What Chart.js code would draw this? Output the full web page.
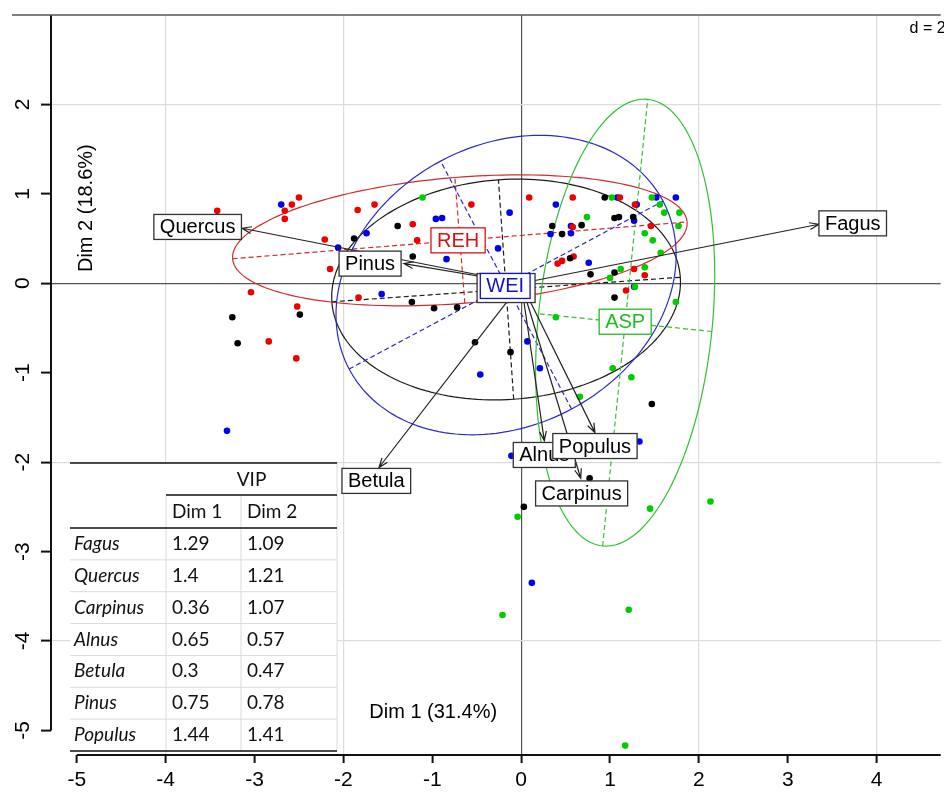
<!DOCTYPE html>
<html>
<head>
<meta charset="utf-8">
<script src="https://cdn.jsdelivr.net/npm/chart.js@4.4.1/dist/chart.umd.min.js"></script>
<style>
  html, body { margin: 0; padding: 0; background: #fff; overflow: hidden; }
  canvas { display: block; }
</style>
</head>
<body>
<canvas id="pcaChart" width="944" height="793"></canvas>
<script>
// site scores on Dim 1 / Dim 2, one pair of arrays per group
const blackX = [-3.25, -2.49, -3.19, -1.88, -1.39, -1.22, -1.23, -0.98, -0.72, -0.52, -0.12, 0.35, 0.46, 0.68, 0.55, 0.78, 0.94, 1.05, 1.10, 1.26, 1.05, 1.05, 1.47, 0.77, 0.03];
const blackY = [-0.38, -0.35, -0.67, 0.50, 0.64, 0.30, -0.21, -0.28, -0.27, -0.66, -0.77, 0.64, 0.55, 0.65, 0.28, 0.10, 0.96, 0.73, 0.74, 0.74, 0.12, -0.16, -1.35, -2.18, -2.50];

const redX = [-3.42, -2.58, -2.50, -2.66, -2.66, -3.04, -2.52, -2.84, -2.53, -1.84, -1.65, -2.21, -2.15, -1.83, -1.22, -1.17, -0.56, 0.09, 0.58, 0.58, 0.59, 0.41, 0.46, 1.11, 1.28, 1.46, 1.27, 1.39, 1.18];
const redY = [0.81, 0.88, 0.96, 0.81, 0.72, -0.10, -0.26, -0.65, -0.84, 0.82, 0.88, 0.49, 0.16, -0.16, 0.66, 0.48, 0.88, 0.96, 0.96, 0.63, 0.30, 0.22, 0.25, 0.96, 0.88, 0.64, 0.16, 0.09, -0.08];

const blueX = [-2.70, -2.06, -1.74, -1.57, -0.96, -0.89, -0.84, -0.26, -0.13, 0.39, 0.33, 0.56, 0.56, 0.76, 1.08, 1.52, 1.74, 1.30, 1.27, 1.27, 0.07, -0.46, 0.21, 1.33, -0.11, 0.12, -3.31];
const blueY = [0.88, 0.40, 0.56, -0.12, 0.72, 0.73, 0.27, 0.39, 0.79, 0.88, 0.55, 0.64, 0.56, 0.23, 0.96, 0.96, 0.96, 0.88, 0.70, -0.04, -0.65, -1.02, -0.95, -1.77, -1.93, -3.35, -1.65];

const greenX = [-1.11, 0.74, 1.00, 1.02, 1.47, 1.56, 1.61, 1.78, 1.77, 1.39, 1.48, 1.57, 1.12, 1.39, 1.28, 1.74, 0.39, 1.03, 1.24, 0.66, 2.13, 1.45, -0.04, -0.21, 1.21, 1.17];
const greenY = [0.96, 0.74, 0.06, 0.96, 0.96, 0.88, 0.79, 0.79, 0.64, 0.56, 0.48, 0.34, 0.16, 0.18, -0.04, -0.21, -0.38, -0.95, -1.05, -1.27, -2.44, -2.52, -2.61, -3.71, -3.65, -5.17];

// group ellipses: centre, semi axes, angle (deg) - black, red, blue, green
const ellipseCX = [-0.17, -0.69, -0.17, 1.17];
const ellipseCY = [-0.07, 0.48, -0.02, -0.44];
const ellipseA = [1.965, 2.565, 2.0, 2.51];
const ellipseB = [1.23, 0.705, 1.57, 0.98];
const ellipseAngle = [4, 4.6, 28, 84.2];
const ellipseColors = ["#1a1a1a", "#d42a2a", "#2b2bc4", "#33c033"];

// group labels
const classNames = ["REH", "WEI", "ASP"];
const classX = [-0.71, -0.18, 1.17];
const classY = [0.48, -0.03, -0.43];
const classColors = ["#dd1111", "#1111cc", "#22bb22"];

// species arrows (tip) and label positions
const speciesNames = ["Fagus", "Quercus", "Carpinus", "Alnus", "Betula", "Pinus", "Populus"];
const arrowX = [3.35, -3.14, 0.67, 0.26, -1.60, -1.32, 0.83];
const arrowY = [0.66, 0.615, -2.18, -1.76, -2.06, 0.22, -1.67];
const labelX = [3.73, -3.64, 0.68, 0.26, -1.63, -1.70, 0.83];
const labelY = [0.67, 0.63, -2.35, -1.92, -2.21, 0.22, -1.82];

// VIP table
const vipSpecies = ["Fagus", "Quercus", "Carpinus", "Alnus", "Betula", "Pinus", "Populus"];
const vipDim1 = [1.29, 1.4, 0.36, 0.65, 0.3, 0.75, 1.44];
const vipDim2 = [1.09, 1.21, 1.07, 0.57, 0.47, 0.78, 1.41];

const xTicks = [-5, -4, -3, -2, -1, 0, 1, 2, 3, 4];
const yTicks = [-5, -4, -3, -2, -1, 0, 1, 2];

const FONT = '"Liberation Sans", Arial, sans-serif';

function pts(xs, ys) {
    return xs.map((x, i) => ({ x: x, y: ys[i] }));
}

function gridColor(ctx) {
    const v = ctx.tick ? ctx.tick.value : null;
    if (v === 0) return "#555";
    if (v !== null && v % 2 === 0) return "#dcdcdc";
    return "rgba(0,0,0,0)";
}

function noPad(s) {
    s.paddingTop = 0;
    s.paddingBottom = 0;
    s.paddingLeft = 0;
    s.paddingRight = 0;
}

function boxLabel(ctx, text, x, y, color, textColor) {
    ctx.font = "20px " + FONT;
    const w = ctx.measureText(text).width + 12;
    const h = 25;
    ctx.fillStyle = "#fff";
    ctx.fillRect(x - w / 2, y - h / 2, w, h);
    ctx.strokeStyle = color;
    ctx.lineWidth = 1.3;
    ctx.setLineDash([]);
    ctx.strokeRect(x - w / 2, y - h / 2, w, h);
    ctx.fillStyle = textColor;
    ctx.textAlign = "center";
    ctx.textBaseline = "middle";
    ctx.fillText(text, x, y + 1);
}

const decorPlugin = {
    id: "decor",
    beforeDatasetsDraw(chart) {
        const ctx = chart.ctx;
        const sx = chart.scales.x, sy = chart.scales.y;
        const area = chart.chartArea;
        ctx.save();

        // axis lines
        ctx.strokeStyle = "#111";
        ctx.lineWidth = 2;
        ctx.beginPath();
        ctx.moveTo(sx.getPixelForValue(-5), area.bottom);
        ctx.lineTo(area.right, area.bottom);
        ctx.moveTo(area.left, sy.getPixelForValue(-5));
        ctx.lineTo(area.left, area.top);
        ctx.stroke();
        ctx.strokeStyle = "#555";
        ctx.lineWidth = 1.5;
        ctx.beginPath();
        ctx.moveTo(12, area.top);
        ctx.lineTo(area.right, area.top);
        ctx.stroke();

        // ellipses with dashed axes
        ctx.beginPath();
        ctx.rect(area.left, area.top, area.right - area.left, area.bottom - area.top);
        ctx.clip();
        for (let i = 0; i < ellipseCX.length; i++) {
            const t = ellipseAngle[i] * Math.PI / 180;
            const cx = sx.getPixelForValue(ellipseCX[i]);
            const cy = sy.getPixelForValue(ellipseCY[i]);
            const ux = sx.getPixelForValue(ellipseCX[i] + ellipseA[i] * Math.cos(t)) - cx;
            const uy = sy.getPixelForValue(ellipseCY[i] + ellipseA[i] * Math.sin(t)) - cy;
            const vx = sx.getPixelForValue(ellipseCX[i] - ellipseB[i] * Math.sin(t)) - cx;
            const vy = sy.getPixelForValue(ellipseCY[i] + ellipseB[i] * Math.cos(t)) - cy;
            ctx.strokeStyle = ellipseColors[i];
            ctx.lineWidth = 1.2;
            ctx.setLineDash([]);
            ctx.beginPath();
            for (let k = 0; k <= 180; k++) {
                const s = k / 180 * 2 * Math.PI;
                const X = cx + ux * Math.cos(s) + vx * Math.sin(s);
                const Y = cy + uy * Math.cos(s) + vy * Math.sin(s);
                if (k === 0) ctx.moveTo(X, Y); else ctx.lineTo(X, Y);
            }
            ctx.stroke();
            ctx.setLineDash([5, 3]);
            ctx.beginPath();
            ctx.moveTo(cx - ux, cy - uy);
            ctx.lineTo(cx + ux, cy + uy);
            ctx.moveTo(cx - vx, cy - vy);
            ctx.lineTo(cx + vx, cy + vy);
            ctx.stroke();
        }
        ctx.restore();
    },
    afterDatasetsDraw(chart) {
        const ctx = chart.ctx;
        const sx = chart.scales.x, sy = chart.scales.y;
        ctx.save();

        // species arrows
        const ox = sx.getPixelForValue(0), oy = sy.getPixelForValue(0);
        ctx.strokeStyle = "#222";
        ctx.lineWidth = 1.2;
        ctx.setLineDash([]);
        for (let i = 0; i < arrowX.length; i++) {
            const tx = sx.getPixelForValue(arrowX[i]);
            const ty = sy.getPixelForValue(arrowY[i]);
            const ang = Math.atan2(ty - oy, tx - ox);
            ctx.beginPath();
            ctx.moveTo(ox, oy);
            ctx.lineTo(tx, ty);
            ctx.moveTo(tx + 10 * Math.cos(ang + Math.PI - 0.35), ty + 10 * Math.sin(ang + Math.PI - 0.35));
            ctx.lineTo(tx, ty);
            ctx.lineTo(tx + 10 * Math.cos(ang + Math.PI + 0.35), ty + 10 * Math.sin(ang + Math.PI + 0.35));
            ctx.stroke();
        }

        // group labels (black group box sits under WEI)
        const bx = sx.getPixelForValue(ellipseCX[0]), by = sy.getPixelForValue(ellipseCY[0]) - 1.5;
        ctx.fillStyle = "#fff";
        ctx.fillRect(bx - 29, by - 14.5, 58, 29);
        ctx.strokeStyle = "#333";
        ctx.lineWidth = 1.3;
        ctx.strokeRect(bx - 29, by - 14.5, 58, 29);
        for (let i = 0; i < classNames.length; i++) {
            boxLabel(ctx, classNames[i], sx.getPixelForValue(classX[i]), sy.getPixelForValue(classY[i]), classColors[i], classColors[i]);
        }

        // species labels
        for (let i = 0; i < speciesNames.length; i++) {
            boxLabel(ctx, speciesNames[i], sx.getPixelForValue(labelX[i]), sy.getPixelForValue(labelY[i]), "#333", "#000");
        }

        // axis titles and scale note
        ctx.fillStyle = "#000";
        ctx.font = "20px " + FONT;
        ctx.textAlign = "center";
        ctx.textBaseline = "middle";
        ctx.fillText("Dim 1 (31.4%)", sx.getPixelForValue(-0.99), sy.getPixelForValue(-4.80));
        ctx.save();
        ctx.translate(sx.getPixelForValue(-4.89), sy.getPixelForValue(0.84));
        ctx.rotate(-Math.PI / 2);
        ctx.fillText("Dim 2 (18.6%)", 0, 0);
        ctx.restore();
        ctx.font = "16px " + FONT;
        ctx.textAlign = "left";
        ctx.fillText("d = 2", sx.getPixelForValue(4.37), sy.getPixelForValue(2.85));

        // VIP table inset
        const tl = 70, tr = 337, c1 = 166, c2 = 241;
        const top = 463, vipLine = 495, head = 528, bottom = 751;
        const rowH = (bottom - head) / vipSpecies.length;
        ctx.fillStyle = "#fff";
        ctx.fillRect(tl, top, tr - tl, bottom - top);
        ctx.strokeStyle = "#dadada";
        ctx.lineWidth = 1;
        ctx.beginPath();
        for (let r = 1; r < vipSpecies.length; r++) {
            ctx.moveTo(tl, head + r * rowH);
            ctx.lineTo(tr, head + r * rowH);
        }
        ctx.moveTo(c1, vipLine); ctx.lineTo(c1, bottom);
        ctx.moveTo(c2, vipLine); ctx.lineTo(c2, bottom);
        ctx.moveTo(tr, top); ctx.lineTo(tr, bottom);
        ctx.stroke();
        ctx.strokeStyle = "#111";
        ctx.lineWidth = 1.5;
        ctx.beginPath();
        ctx.moveTo(tl, top); ctx.lineTo(tr, top);
        ctx.moveTo(c1, vipLine); ctx.lineTo(tr, vipLine);
        ctx.moveTo(tl, head); ctx.lineTo(tr, head);
        ctx.moveTo(tl, bottom); ctx.lineTo(tr, bottom);
        ctx.stroke();

        ctx.fillStyle = "#111";
        ctx.textBaseline = "middle";
        ctx.font = "19px Lato, sans-serif";
        ctx.textAlign = "center";
        ctx.fillText("VIP", (c1 + tr) / 2, 480);
        ctx.textAlign = "left";
        ctx.fillText("Dim 1", c1 + 6, 512);
        ctx.fillText("Dim 2", c2 + 6, 512);
        for (let r = 0; r < vipSpecies.length; r++) {
            const yc = head + (r + 0.5) * rowH;
            ctx.font = "italic 19px Lato, sans-serif";
            ctx.fillText(vipSpecies[r], tl + 4, yc);
            ctx.font = "19px Lato, sans-serif";
            ctx.fillText(String(vipDim1[r]), c1 + 6, yc);
            ctx.fillText(String(vipDim2[r]), c2 + 6, yc);
        }
        ctx.restore();
    }
};

const ctx = document.getElementById("pcaChart").getContext("2d");

new Chart(ctx, {
    type: "scatter",
    data: {
        datasets: [
            { label: "black", data: pts(blackX, blackY), backgroundColor: "#000" },
            { label: "REH", data: pts(redX, redY), backgroundColor: "#ee0000" },
            { label: "ASP", data: pts(greenX, greenY), backgroundColor: "#00cc00" },
            { label: "WEI", data: pts(blueX, blueY), backgroundColor: "#0000ee" }
        ]
    },
    options: {
        responsive: false,
        animation: false,
        devicePixelRatio: 1,
        layout: { padding: { top: 15, right: 0, left: 0, bottom: 0 } },
        elements: { point: { radius: 3.3, borderWidth: 0, hoverRadius: 3.3 } },
        plugins: { legend: { display: false }, tooltip: { enabled: false } },
        scales: {
            x: {
                type: "linear",
                min: -5.29,
                max: 4.72,
                afterBuildTicks: s => { s.ticks = xTicks.map(v => ({ value: v })); },
                afterFit: s => { s.height = 38; noPad(s); },
                border: { display: false },
                grid: { color: gridColor, lineWidth: 1.2, tickColor: "#111", tickLength: 8, tickWidth: 2 },
                ticks: { font: { family: FONT, size: 21 }, color: "#000", padding: 5, maxRotation: 0 }
            },
            y: {
                type: "linear",
                min: -5.275,
                max: 3.0,
                afterBuildTicks: s => { s.ticks = yTicks.map(v => ({ value: v })); },
                afterFit: s => { s.width = 51; noPad(s); },
                border: { display: false },
                grid: { color: gridColor, lineWidth: 1.2, tickColor: "#111", tickLength: 10, tickWidth: 2 },
                ticks: { font: { family: FONT, size: 21 }, color: "#000", padding: 8, minRotation: 90, maxRotation: 90, crossAlign: "center" }
            }
        }
    },
    plugins: [decorPlugin]
});
</script>
</body>
</html>
